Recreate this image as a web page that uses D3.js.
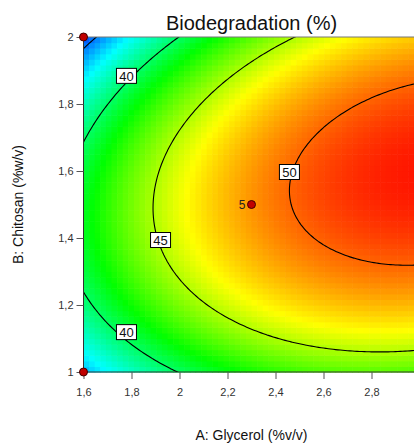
<!DOCTYPE html>
<html>
<head>
<meta charset="utf-8">
<script src="https://cdn.jsdelivr.net/npm/d3@7"></script>
<style>
  body { margin: 0; background: #fff; }
  svg { font-family: "Liberation Sans", Arial, sans-serif; }
</style>
</head>
<body>
<div class="container"></div>
<script>
const width = 414;
const height = 443;

// fitted quadratic model in centred units: a = A - 2.3, b = B - 1.5
const terms = ['Intercept', 'A', 'B', 'AB', 'A^2', 'B^2'];
const coef = [48.91, 7.44, 1.33, 4.54, -5.11, -24.65];
const centreA = 2.3, centreB = 1.5;

// design points
const pointsA = [1.6, 1.6, 3.0, 3.0, 2.3];
const pointsB = [1.0, 2.0, 1.0, 2.0, 1.5];
const pointsN = [1, 1, 1, 1, 5];

const levels = [35, 40, 45, 50];
const labelLevels = [40, 40, 45, 50];
const labelA = [1.779, 1.779, 1.921, 2.458];
const labelB = [1.884, 1.119, 1.394, 1.597];

// colour ramp stops (response value -> colour)
const rampValues = [33, 37.2, 41.8, 46.5, 52.3];
const rampColors = ['#0000ff', '#00ffff', '#00ff00', '#ffff00', '#ff0000'];

const xTicks = [1.6, 1.8, 2, 2.2, 2.4, 2.6, 2.8];
const yTicks = [1, 1.2, 1.4, 1.6, 1.8, 2];

const model = (A, B) => {
    const a = A - centreA, b = B - centreB;
    return coef[0] + coef[1] * a + coef[2] * b + coef[3] * a * b + coef[4] * a * a + coef[5] * b * b;
};

const x = d3.scaleLinear().domain([1.6, 3.0]).range([83.5, 419.5]);
const y = d3.scaleLinear().domain([1, 2]).range([372, 37]);
const fmt = d => String(d).replace('.', ',');

const svg = d3.select('.container')
    .append('svg')
    .attr('width', width)
    .attr('height', height);

svg.append('clipPath').attr('id', 'plot')
    .append('rect')
    .attr('x', x(1.6)).attr('y', y(2))
    .attr('width', x(3) - x(1.6)).attr('height', y(1) - y(2));

// colour cells
const nA = 60, nB = 60;
const cells = [];
for (let i = 0; i < nA; i++) {
    for (let j = 0; j < nB; j++) {
        const a = 1.6 + (i + 0.5) * 1.4 / nA;
        const b = 1 + (j + 0.5) / nB;
        cells.push({ i, j, v: model(a, b) });
    }
}
const color = d3.scaleLinear()
    .domain(rampValues)
    .range(rampColors)
    .clamp(true);

const cw = (x(3) - x(1.6)) / nA;
const ch = (y(1) - y(2)) / nB;
svg.append('g')
    .selectAll('rect')
    .data(cells)
    .enter()
    .append('rect')
    .attr('x', d => x(1.6) + d.i * cw)
    .attr('y', d => y(1) - (d.j + 1) * ch)
    .attr('width', cw + 0.6)
    .attr('height', ch + 0.6)
    .attr('fill', d => color(d.v));

// contour lines
const gx = 161, gy = 121;
const a0 = 1.5, a1 = 3.1, b0 = 0.9, b1 = 2.1;
const grid = new Array(gx * gy);
for (let j = 0; j < gy; j++) {
    for (let i = 0; i < gx; i++) {
        const a = a0 + i * (a1 - a0) / (gx - 1);
        const b = b1 - j * (b1 - b0) / (gy - 1);
        grid[j * gx + i] = model(a, b);
    }
}
const contours = d3.contours().size([gx, gy]).thresholds(levels)(grid);
const toPx = ([ci, cj]) => [
    x(a0 + (ci - 0.5) * (a1 - a0) / (gx - 1)),
    y(b1 - (cj - 0.5) * (b1 - b0) / (gy - 1))
];
const line = d3.line();
svg.append('g')
    .attr('clip-path', 'url(#plot)')
    .selectAll('path')
    .data(contours)
    .enter()
    .append('path')
    .attr('fill', 'none')
    .attr('stroke', '#000')
    .attr('stroke-width', 1.1)
    .attr('d', c => c.coordinates.map(poly => poly.map(ring => line(ring.map(toPx)) + 'Z').join('')).join(''));

// frame
svg.append('line').attr('x1', x(1.6)).attr('x2', width).attr('y1', y(2)).attr('y2', y(2)).attr('stroke', '#777');
svg.append('line').attr('x1', x(1.6)).attr('x2', x(1.6)).attr('y1', y(2)).attr('y2', y(1)).attr('stroke', '#333');
svg.append('line').attr('x1', x(1.6)).attr('x2', width).attr('y1', y(1)).attr('y2', y(1)).attr('stroke', '#333');

// axes
const xAxis = svg.append('g').attr('transform', `translate(0,${y(1)})`)
    .call(d3.axisBottom(x).tickValues(xTicks).tickFormat(fmt).tickSize(7).tickSizeOuter(0));
const yAxis = svg.append('g').attr('transform', `translate(${x(1.6)},0)`)
    .call(d3.axisLeft(y).tickValues(yTicks).tickFormat(fmt).tickSize(7).tickSizeOuter(0));
[xAxis, yAxis].forEach(g => {
    g.select('.domain').remove();
    g.selectAll('line').attr('stroke', '#555');
    g.selectAll('text').attr('fill', '#333').style('font-size', '11px')
        .style('font-family', '"Liberation Sans", Arial, sans-serif');
});
xAxis.selectAll('text').attr('dy', '1.3em');

// contour labels
const lab = svg.append('g');
labelLevels.forEach((lv, k) => {
    const g = lab.append('g').attr('transform', `translate(${x(labelA[k])},${y(labelB[k])})`);
    g.append('rect').attr('x', -10).attr('y', -7.5).attr('width', 20).attr('height', 15)
        .attr('fill', '#fff').attr('stroke', '#000').attr('stroke-width', 1);
    g.append('text').attr('text-anchor', 'middle').attr('dy', '0.36em')
        .style('font-size', '13px').attr('fill', '#111').text(lv);
});

// design points
svg.append('g')
    .selectAll('circle')
    .data(pointsA)
    .enter()
    .append('circle')
    .attr('cx', d => x(d))
    .attr('cy', (d, i) => y(pointsB[i]))
    .attr('r', 4)
    .attr('fill', '#c00000')
    .attr('stroke', '#400')
    .attr('stroke-width', 1);
svg.append('g')
    .selectAll('text')
    .data(pointsN.filter(n => n > 1))
    .enter()
    .append('text')
    .attr('x', x(pointsA[4]) - 6)
    .attr('y', y(pointsB[4]))
    .attr('dy', '0.36em')
    .attr('text-anchor', 'end')
    .style('font-size', '12px')
    .attr('fill', '#222')
    .text(d => d);

// titles
svg.append('text').attr('x', 251.5).attr('y', 30).attr('text-anchor', 'middle')
    .style('font-size', '20px').attr('fill', '#111').text('Biodegradation (%)');
svg.append('text').attr('x', 251.5).attr('y', 440).attr('text-anchor', 'middle')
    .style('font-size', '14px').attr('fill', '#111').text('A: Glycerol (%v/v)');
svg.append('text').attr('transform', `translate(23,${(y(1) + y(2)) / 2}) rotate(-90)`)
    .attr('text-anchor', 'middle')
    .style('font-size', '14px').attr('fill', '#111').text('B: Chitosan (%w/v)');
</script>
</body>
</html>
